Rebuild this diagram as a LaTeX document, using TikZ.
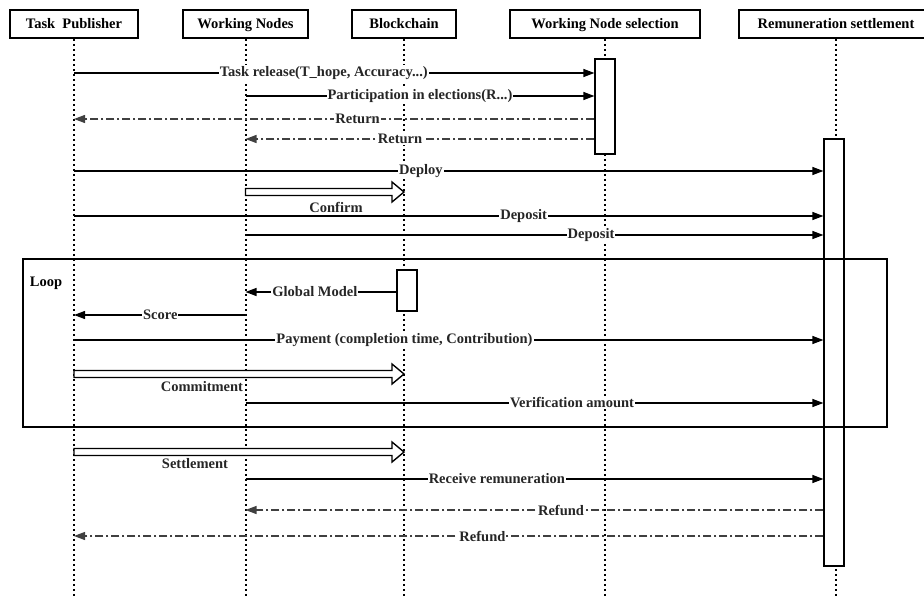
\documentclass[tikz,border=0pt]{standalone}
\usepackage{fontspec}
\setmainfont{Liberation Serif}
\usetikzlibrary{arrows.meta,calc}

% hollow block arrow between two lifelines at height #3
\newcommand\fatarrow[3]{%
  \draw[fat] ($(#1 |- 0,#3)+(0,-3.5)$) -- ($(#2 |- 0,#3)+(-12,-3.5)$) -- ++(0,-6.5)
    -- (#2 |- 0,#3) -- ++(-12,10) -- ++(0,-6.5) -- ($(#1 |- 0,#3)+(0,3.5)$) -- cycle;}

\begin{document}
\begin{tikzpicture}[
                x=1pt, y=-1pt,
                every node/.style={font=\bfseries\fontsize{14.5}{17}\selectfont},
                head/.style={draw, line width=1.6pt, minimum height=28pt, inner sep=0pt, text depth=0pt, text height=10pt},
                life/.style={line width=2pt, dash pattern=on 2pt off 3pt},
                act/.style={draw, fill=white, line width=1.2pt, minimum width=20pt, inner sep=0pt},
                msg/.style={line width=1.2pt, -{Triangle[length=11pt,width=8pt]}},
                ret/.style={msg, black!75, dash pattern=on 8pt off 3pt on 2pt off 3pt},
                lbl/.style={fill=white, inner sep=1pt, text=black!85},
                fat/.style={draw, line width=1.4pt, fill=white, line join=miter}
                ]
                \useasboundingbox (0,0) rectangle (924,599);

                % Define the nodes
                \node[head, minimum width=128pt] (tp) at (74,24) {Task\ \ Publisher};
                \node[head, minimum width=125pt] (wn) at (245.5,24) {Working Nodes};
                \node[head, minimum width=104pt] (bc) at (404,24) {Blockchain};
                \node[head, minimum width=190pt] (ws) at (605,24) {Working Node selection};
                \node[head, minimum width=194pt] (rs) at (836,24) {Remuneration settlement};

                \foreach \n in {tp,wn,bc,ws,rs}
                  \draw[life] (\n.south) -- (\n.south |- 0,598);

                \node[act, minimum height=95pt] (wsact) at (605,106.5) {};
                \node[act, minimum height=427pt] (rsact) at (834,352.5) {};
                \node[act, minimum height=41pt] (bcact) at (407,290.5) {};

                \node[draw, line width=1.2pt, minimum width=864pt, minimum height=168pt, inner sep=0pt] (loop) at (455,343) {};
                \node (looplbl) at (46,283) {Loop};

                % Draw the arrows
                \draw[msg] (tp |- 0,73) -- (wsact.west |- 0,73) node[lbl, pos=.48] {Task release(T\_hope, Accuracy...)};
                \draw[msg] (wn |- 0,96) -- (wsact.west |- 0,96) node[lbl, pos=.5] {Participation in elections(R...)};
                \draw[ret] (wsact.west |- 0,119) -- (tp |- 0,119) node[lbl, pos=.455] {Return};
                \draw[ret] (wsact.west |- 0,139) -- (wn |- 0,139) node[lbl, pos=.557] {Return};
                \draw[msg] (tp |- 0,171) -- (rsact.west |- 0,171) node[lbl, pos=.463] {Deploy};
                \fatarrow{wn}{bc}{192}
                \node[text=black!85] (confirm) at (336,207) {Confirm};
                \draw[msg] (tp |- 0,216) -- (rsact.west |- 0,216) node[lbl, pos=.6] {Deposit};
                \draw[msg] (wn |- 0,235) -- (rsact.west |- 0,235) node[lbl, pos=.598] {Deposit};

                \draw[msg] (bcact.west |- 0,292) -- (wn |- 0,292) node[lbl, pos=.54] {Global Model};
                \draw[msg] (wn |- 0,315) -- (tp |- 0,315) node[lbl, pos=.497] {Score};
                \draw[msg] (tp |- 0,340) -- (rsact.west |- 0,340) node[lbl, pos=.441] {Payment (completion time, Contribution)};
                \fatarrow{tp}{bc}{374}
                \node[text=black!85] (commit) at (202,387) {Commitment};
                \draw[msg] (wn |- 0,403) -- (rsact.west |- 0,403) node[lbl, pos=.565] {Verification amount};

                \fatarrow{tp}{bc}{452}
                \node[text=black!85] (settle) at (195,464) {Settlement};
                \draw[msg] (wn |- 0,479) -- (rsact.west |- 0,479) node[lbl, pos=.435] {Receive remuneration};
                \draw[ret] (rsact.west |- 0,510) -- (wn |- 0,510) node[lbl, pos=.454] {Refund};
                \draw[ret] (rsact.west |- 0,536) -- (tp |- 0,536) node[lbl, pos=.455] {Refund};
\end{tikzpicture}
\end{document}
